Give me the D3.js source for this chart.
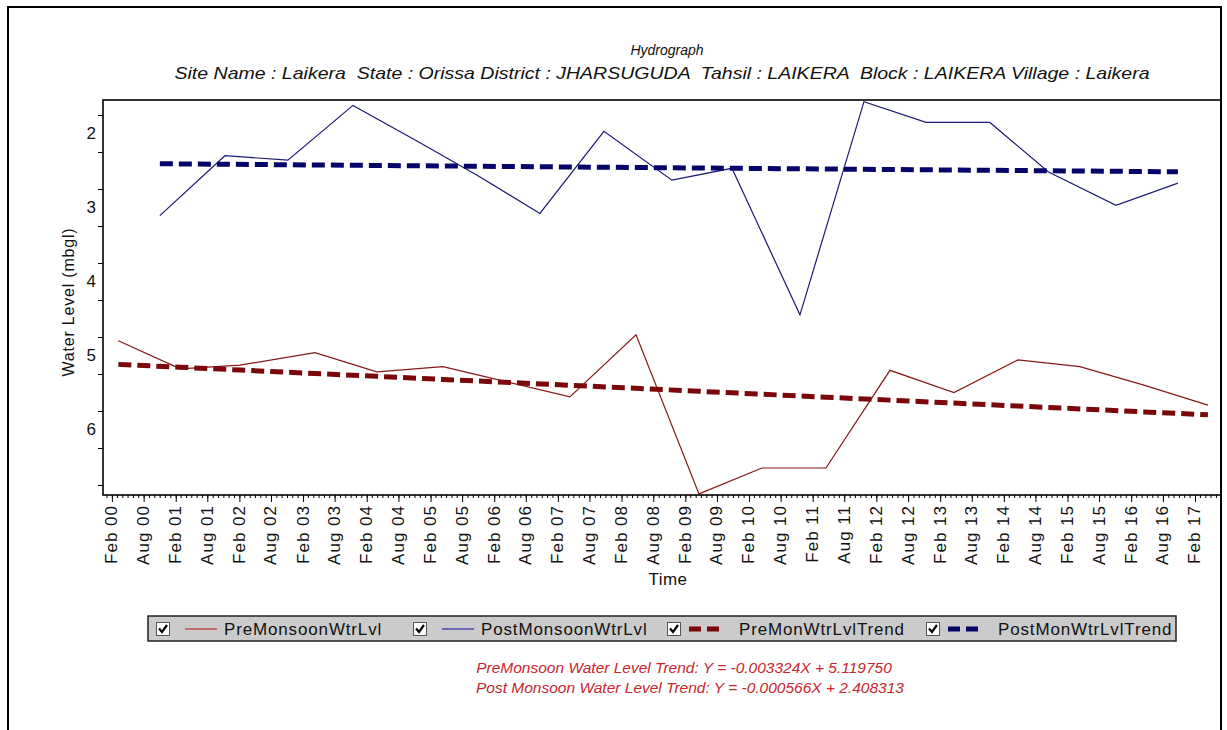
<!DOCTYPE html>
<html>
<head>
<meta charset="utf-8">
<title>Hydrograph - Laikera</title>
<script src="https://cdn.jsdelivr.net/npm/d3@7"></script>
<style>
  html, body { margin: 0; padding: 0; background: #ffffff; }
  svg { display: block; font-family: "Liberation Sans", Arial, Helvetica, sans-serif; }
</style>
</head>
<body>
<svg id="chart" width="1227" height="730"></svg>
<script>
// ---- Observations: depth to water level, metres below ground level ----
const preDates = ["2000-03-09","2001-02-27","2002-02-04","2003-04-10","2004-03-30","2005-04-13",
                  "2006-04-03","2007-04-11","2008-04-24","2009-04-20","2010-04-16","2011-04-18",
                  "2012-04-19","2013-04-21","2014-04-23","2015-04-13","2016-04-14","2017-04-16"];
const preLevels = [4.80, 5.18, 5.13, 4.96, 5.22, 5.15, 5.35, 5.56, 4.72, 6.87, 6.52, 6.52,
                   5.20, 5.50, 5.06, 5.15, 5.40, 5.67];

const postDates = ["2000-11-02","2001-11-10","2002-11-06","2003-11-14","2004-11-15","2005-10-31",
                   "2006-10-21","2007-10-23","2008-11-16","2009-10-26","2010-11-20","2011-11-22",
                   "2012-11-12","2013-11-13","2014-10-15","2015-11-06","2016-10-26"];
const postLevels = [3.11, 2.30, 2.36, 1.62, 2.10, 2.57, 3.08, 1.97, 2.63, 2.47, 4.45, 1.57,
                    1.85, 1.85, 2.52, 2.97, 2.67];

// Linear trend fits (X = months since the first reading of the series)
const preTrendSlope = -0.003324, preTrendIntercept = 5.119750;
const postTrendSlope = -0.000566, postTrendIntercept = 2.408313;

// Axis labelling
const yTickLabels = [2, 3, 4, 5, 6];
const yMinorTicks = [1.75, 2.25, 2.75, 3.25, 3.75, 4.25, 4.75, 5.25, 5.75, 6.25, 6.75];
const xDomain = ["1999-12-12", "2017-06-30"];
const yDomain = [1.547, 6.885];
const xLabelStart = "2000-02-01", xLabelEnd = "2017-02-01";

const titleText = "Hydrograph";
const subtitleText = "Site Name : Laikera  State : Orissa District : JHARSUGUDA  Tahsil : LAIKERA  Block : LAIKERA Village : Laikera";
const legendLabels = ["PreMonsoonWtrLvl", "PostMonsoonWtrLvl", "PreMonWtrLvlTrend", "PostMonWtrLvlTrend"];
const equationLines = [
  "PreMonsoon Water Level Trend: Y = -0.003324X + 5.119750",
  "Post Monsoon Water Level Trend: Y = -0.000566X + 2.408313"
];

// ---- Drawing ----
const parse = d3.utcParse("%Y-%m-%d");
const svg = d3.select("#chart");
const plot = { left: 103, top: 100, right: 1221, bottom: 495 };

const colors = {
  pre: "#861818", post: "#1a1a78",
  preTrend: "#7a0808", postTrend: "#06066a",
  preKey: "#c23a3a", postKey: "#3a3aa8",
  equation: "#c8262e"
};

const x = d3.scaleUtc().domain(xDomain.map(parse)).range([plot.left, plot.right]);
const y = d3.scaleLinear().domain(yDomain).range([plot.top, plot.bottom]);

// outer frame
svg.append("path")
  .attr("d", `M8,732V7H1221V732`)
  .attr("fill", "none").attr("stroke", "#000").attr("stroke-width", 2);

// titles
svg.append("text").attr("x", 667).attr("y", 55).attr("text-anchor", "middle")
  .attr("font-size", 14).attr("font-style", "italic").attr("fill", "#111").text(titleText);
svg.append("text").attr("x", 662).attr("y", 79).attr("text-anchor", "middle")
  .attr("font-size", 16.5).attr("font-style", "italic").attr("fill", "#111")
  .attr("textLength", 975).attr("lengthAdjust", "spacingAndGlyphs")
  .style("white-space", "pre").attr("xml:space", "preserve").text(subtitleText);

// clip for plotted series
svg.append("clipPath").attr("id", "plotClip").append("rect")
  .attr("x", plot.left).attr("y", plot.top)
  .attr("width", plot.right - plot.left).attr("height", plot.bottom - plot.top);

const series = svg.append("g").attr("clip-path", "url(#plotClip)");

const toPoints = (dates, levels) => dates.map((d, i) => ({ date: parse(d), level: levels[i] }));
const prePts = toPoints(preDates, preLevels);
const postPts = toPoints(postDates, postLevels);

// trend: fit is reported on level change (rise positive), so depth moves the opposite way
const MONTH_MS = 30.4375 * 24 * 3600 * 1000;
const trendPoints = (pts, slope, intercept) => {
  const t0 = pts[0].date;
  return pts.map(p => ({ date: p.date, level: intercept - slope * ((p.date - t0) / MONTH_MS) }));
};

const line = d3.line().x(d => x(d.date)).y(d => y(d.level));

series.append("path").datum(prePts).attr("d", line)
  .attr("fill", "none").attr("stroke", colors.pre).attr("stroke-width", 1.2);
series.append("path").datum(postPts).attr("d", line)
  .attr("fill", "none").attr("stroke", colors.post).attr("stroke-width", 1.2);

series.append("path").datum(trendPoints(prePts, preTrendSlope, preTrendIntercept)).attr("d", line)
  .attr("fill", "none").attr("stroke", colors.preTrend).attr("stroke-width", 5)
  .attr("stroke-dasharray", "13,6");
series.append("path").datum(trendPoints(postPts, postTrendSlope, postTrendIntercept)).attr("d", line)
  .attr("fill", "none").attr("stroke", colors.postTrend).attr("stroke-width", 5)
  .attr("stroke-dasharray", "13,6");

// plot frame
svg.append("rect").attr("x", plot.left).attr("y", plot.top)
  .attr("width", plot.right - plot.left).attr("height", plot.bottom - plot.top)
  .attr("fill", "none").attr("stroke", "#000").attr("stroke-width", 1.6);

const labelFont = 17;

// y axis: minor ticks and integer labels
const yAxisTicks = svg.append("g").attr("transform", `translate(${plot.left},0)`)
  .call(d3.axisLeft(y).tickValues(yMinorTicks).tickSize(5).tickFormat(""));
const yAxisLabels = svg.append("g").attr("transform", `translate(${plot.left},0)`)
  .call(d3.axisLeft(y).tickValues(yTickLabels).tickSize(0).tickPadding(7).tickFormat(d3.format("d")));
[yAxisTicks, yAxisLabels].forEach(g => g.select(".domain").remove());
yAxisTicks.selectAll("line").attr("stroke", "#000");
yAxisLabels.selectAll("text").attr("font-size", labelFont).attr("font-family", null).attr("fill", "#111");

svg.append("text")
  .attr("transform", `translate(74,302) rotate(-90)`)
  .attr("text-anchor", "middle").attr("font-size", 16).style("letter-spacing", "0.8px")
  .attr("fill", "#111").text("Water Level (mbgl)");

// x axis: monthly minor ticks, Feb/Aug labelled ticks
const majorDates = d3.utcMonths(parse(xLabelStart), d3.utcDay.offset(parse(xLabelEnd), 1), 6);
const minorAxis = svg.append("g").attr("transform", `translate(0,${plot.bottom})`)
  .call(d3.axisBottom(x).ticks(d3.utcMonth.every(1)).tickSize(3).tickFormat(""));
minorAxis.select(".domain").remove();
minorAxis.selectAll("line").attr("stroke", "#000");

const majorAxis = svg.append("g").attr("transform", `translate(0,${plot.bottom})`)
  .call(d3.axisBottom(x).tickValues(majorDates).tickSize(7).tickFormat(d3.utcFormat("%b %y")));
majorAxis.select(".domain").remove();
majorAxis.selectAll("line").attr("stroke", "#000");
majorAxis.selectAll("text")
  .attr("font-size", labelFont).attr("font-family", null).attr("fill", "#111")
  .style("letter-spacing", "1px")
  .attr("transform", "rotate(-90)")
  .attr("text-anchor", "end")
  .attr("x", -10).attr("y", -1).attr("dy", "0.35em");

svg.append("text").attr("x", 668).attr("y", 585).attr("text-anchor", "middle")
  .attr("font-size", labelFont).style("letter-spacing", "0.5px").attr("fill", "#111").text("Time");

// legend
const legend = svg.append("g");
legend.append("rect").attr("x", 148).attr("y", 616).attr("width", 1028).attr("height", 25)
  .attr("fill", "#cbcbcb").attr("stroke", "#222").attr("stroke-width", 1.5);

const keyStyles = [
  { color: colors.preKey, dashed: false },
  { color: colors.postKey, dashed: false },
  { color: colors.preTrend, dashed: true },
  { color: colors.postTrend, dashed: true }
];
const itemStarts = [156, 413, 667, 926];
legendLabels.forEach((label, i) => {
  const g = legend.append("g").attr("transform", `translate(${itemStarts[i]},0)`);
  g.append("rect").attr("x", 0.5).attr("y", 622.5).attr("width", 13).attr("height", 13)
    .attr("fill", "#fff").attr("stroke", "#555").attr("stroke-width", 1);
  g.append("path").attr("d", "M3,628.5L6,632L11,625")
    .attr("fill", "none").attr("stroke", "#000").attr("stroke-width", 2.2);
  const ks = keyStyles[i];
  if (ks.dashed) {
    g.append("line").attr("x1", 22).attr("x2", 58).attr("y1", 629).attr("y2", 629)
      .attr("stroke", ks.color).attr("stroke-width", 5).attr("stroke-dasharray", "12,6");
  } else {
    g.append("line").attr("x1", 29).attr("x2", 61).attr("y1", 629).attr("y2", 629)
      .attr("stroke", ks.color).attr("stroke-width", 1.3);
  }
  g.append("text").attr("x", ks.dashed ? 72 : 68).attr("y", 635)
    .attr("font-size", labelFont).style("letter-spacing", "0.85px").attr("fill", "#111").text(label);
});

// trend equations
const equationCenters = [684, 690];
equationLines.forEach((t, i) => {
  svg.append("text").attr("x", equationCenters[i]).attr("y", 673 + i * 20).attr("text-anchor", "middle")
    .attr("font-size", 15.5).attr("font-style", "italic").attr("fill", colors.equation).text(t);
});
</script>
</body>
</html>
